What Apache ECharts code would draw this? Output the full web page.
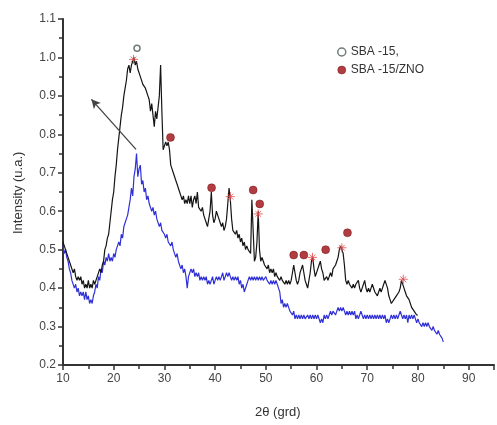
<!DOCTYPE html>
<html>
<head>
<meta charset="utf-8">
<script src="https://cdn.jsdelivr.net/npm/echarts@6/dist/echarts.min.js"></script>
<style>
  html, body { margin: 0; padding: 0; background: #fff; }
  #chart { width: 497px; height: 425px; }
</style>
</head>
<body>
<div id="chart"></div>
<script>
// XRD pattern of SBA-15/ZnO (black) and SBA-15 (blue), 2θ scan in 0.25° steps
var zincTheta = [
  10.00,10.25,10.50,10.75,11.00,11.25,11.50,11.75,12.00,12.25,12.50,12.75,13.00,13.25,13.50,13.75,14.00,14.25,14.50,14.75,
  15.00,15.25,15.50,15.75,16.00,16.25,16.50,16.75,17.00,17.25,17.50,17.75,18.00,18.25,18.50,18.75,19.00,19.25,19.50,19.75,
  20.00,20.25,20.50,20.75,21.00,21.25,21.50,21.75,22.00,22.25,22.50,22.75,23.00,23.25,23.50,23.75,24.00,24.25,24.50,24.75,
  25.00,25.25,25.50,25.75,26.00,26.25,26.50,26.75,27.00,27.25,27.50,27.75,28.00,28.25,28.50,28.75,29.00,29.25,29.50,29.75,
  30.00,30.25,30.50,30.75,31.00,31.25,31.50,31.75,32.00,32.25,32.50,32.75,33.00,33.25,33.50,33.75,34.00,34.25,34.50,34.75,
  35.00,35.25,35.50,35.75,36.00,36.25,36.50,36.75,37.00,37.25,37.50,37.75,38.00,38.25,38.50,38.75,39.00,39.25,39.50,39.75,
  40.00,40.25,40.50,40.75,41.00,41.25,41.50,41.75,42.00,42.25,42.50,42.75,43.00,43.25,43.50,43.75,44.00,44.25,44.50,44.75,
  45.00,45.25,45.50,45.75,46.00,46.25,46.50,46.75,47.00,47.25,47.50,47.75,48.00,48.25,48.50,48.75,49.00,49.25,49.50,49.75,
  50.00,50.25,50.50,50.75,51.00,51.25,51.50,51.75,52.00,52.25,52.50,52.75,53.00,53.25,53.50,53.75,54.00,54.25,54.50,54.75,
  55.00,55.25,55.50,55.75,56.00,56.25,56.50,56.75,57.00,57.25,57.50,57.75,58.00,58.25,58.50,58.75,59.00,59.25,59.50,59.75,
  60.00,60.25,60.50,60.75,61.00,61.25,61.50,61.75,62.00,62.25,62.50,62.75,63.00,63.25,63.50,63.75,64.00,64.25,64.50,64.75,
  65.00,65.25,65.50,65.75,66.00,66.25,66.50,66.75,67.00,67.25,67.50,67.75,68.00,68.25,68.50,68.75,69.00,69.25,69.50,69.75,
  70.00,70.25,70.50,70.75,71.00,71.25,71.50,71.75,72.00,72.25,72.50,72.75,73.00,73.25,73.50,73.75,74.00,74.25,74.50,74.75,
  75.00,75.25,75.50,75.75,76.00,76.25,76.50,76.75,77.00,77.25,77.50,77.75,78.00,78.25,78.50,78.75,79.00,79.25,79.50,79.75,
  80.00];
var zincIntensity = [
  0.52,0.51,0.50,0.50,0.48,0.48,0.46,0.46,0.44,0.45,0.43,0.42,0.43,0.42,0.43,0.41,0.42,0.40,0.41,0.40,
  0.42,0.40,0.41,0.40,0.42,0.41,0.42,0.43,0.43,0.45,0.44,0.46,0.47,0.50,0.51,0.53,0.54,0.57,0.60,0.63,
  0.65,0.69,0.72,0.76,0.79,0.82,0.85,0.87,0.90,0.92,0.94,0.97,0.98,0.96,0.98,0.99,1.00,0.98,0.99,0.97,
  0.97,0.95,0.95,0.93,0.93,0.92,0.92,0.90,0.89,0.86,0.88,0.85,0.82,0.86,0.84,0.87,0.90,0.98,0.86,0.76,
  0.77,0.78,0.77,0.78,0.76,0.72,0.72,0.70,0.70,0.68,0.67,0.67,0.65,0.64,0.63,0.64,0.62,0.63,0.62,0.64,
  0.62,0.64,0.61,0.63,0.64,0.62,0.65,0.61,0.61,0.60,0.61,0.59,0.59,0.57,0.56,0.58,0.60,0.65,0.59,0.57,
  0.58,0.60,0.59,0.58,0.57,0.56,0.57,0.55,0.56,0.58,0.62,0.66,0.63,0.58,0.55,0.55,0.54,0.55,0.53,0.54,
  0.52,0.53,0.51,0.52,0.50,0.51,0.50,0.50,0.49,0.63,0.55,0.47,0.48,0.52,0.60,0.50,0.47,0.48,0.47,0.46,
  0.46,0.45,0.46,0.44,0.45,0.44,0.45,0.43,0.44,0.43,0.43,0.42,0.43,0.42,0.42,0.41,0.42,0.41,0.42,0.41,
  0.42,0.44,0.46,0.44,0.42,0.41,0.42,0.44,0.45,0.46,0.44,0.42,0.41,0.40,0.40,0.44,0.47,0.48,0.45,0.43,
  0.43,0.45,0.46,0.47,0.45,0.44,0.42,0.42,0.43,0.42,0.43,0.44,0.43,0.45,0.45,0.46,0.47,0.48,0.50,0.51,
  0.51,0.49,0.46,0.42,0.41,0.42,0.41,0.41,0.40,0.41,0.40,0.41,0.41,0.42,0.40,0.39,0.40,0.41,0.42,0.40,
  0.39,0.40,0.39,0.40,0.41,0.41,0.39,0.39,0.38,0.39,0.40,0.39,0.40,0.41,0.42,0.42,0.40,0.38,0.37,0.36,
  0.36,0.37,0.37,0.38,0.38,0.39,0.40,0.42,0.42,0.40,0.39,0.38,0.38,0.37,0.36,0.35,0.35,0.34,0.34,0.33,
  0.33];

var silicaTheta = [
  10.00,10.25,10.50,10.75,11.00,11.25,11.50,11.75,12.00,12.25,12.50,12.75,13.00,13.25,13.50,13.75,14.00,14.25,14.50,14.75,
  15.00,15.25,15.50,15.75,16.00,16.25,16.50,16.75,17.00,17.25,17.50,17.75,18.00,18.25,18.50,18.75,19.00,19.25,19.50,19.75,
  20.00,20.25,20.50,20.75,21.00,21.25,21.50,21.75,22.00,22.25,22.50,22.75,23.00,23.25,23.50,23.75,24.00,24.25,24.50,24.75,
  25.00,25.25,25.50,25.75,26.00,26.25,26.50,26.75,27.00,27.25,27.50,27.75,28.00,28.25,28.50,28.75,29.00,29.25,29.50,29.75,
  30.00,30.25,30.50,30.75,31.00,31.25,31.50,31.75,32.00,32.25,32.50,32.75,33.00,33.25,33.50,33.75,34.00,34.25,34.50,34.75,
  35.00,35.25,35.50,35.75,36.00,36.25,36.50,36.75,37.00,37.25,37.50,37.75,38.00,38.25,38.50,38.75,39.00,39.25,39.50,39.75,
  40.00,40.25,40.50,40.75,41.00,41.25,41.50,41.75,42.00,42.25,42.50,42.75,43.00,43.25,43.50,43.75,44.00,44.25,44.50,44.75,
  45.00,45.25,45.50,45.75,46.00,46.25,46.50,46.75,47.00,47.25,47.50,47.75,48.00,48.25,48.50,48.75,49.00,49.25,49.50,49.75,
  50.00,50.25,50.50,50.75,51.00,51.25,51.50,51.75,52.00,52.25,52.50,52.75,53.00,53.25,53.50,53.75,54.00,54.25,54.50,54.75,
  55.00,55.25,55.50,55.75,56.00,56.25,56.50,56.75,57.00,57.25,57.50,57.75,58.00,58.25,58.50,58.75,59.00,59.25,59.50,59.75,
  60.00,60.25,60.50,60.75,61.00,61.25,61.50,61.75,62.00,62.25,62.50,62.75,63.00,63.25,63.50,63.75,64.00,64.25,64.50,64.75,
  65.00,65.25,65.50,65.75,66.00,66.25,66.50,66.75,67.00,67.25,67.50,67.75,68.00,68.25,68.50,68.75,69.00,69.25,69.50,69.75,
  70.00,70.25,70.50,70.75,71.00,71.25,71.50,71.75,72.00,72.25,72.50,72.75,73.00,73.25,73.50,73.75,74.00,74.25,74.50,74.75,
  75.00,75.25,75.50,75.75,76.00,76.25,76.50,76.75,77.00,77.25,77.50,77.75,78.00,78.25,78.50,78.75,79.00,79.25,79.50,79.75,
  80.00,80.25,80.50,80.75,81.00,81.25,81.50,81.75,82.00,82.25,82.50,82.75,83.00,83.25,83.50,83.75,84.00,84.25,84.50,84.75,
  85.00];
var silicaIntensity = [
  0.51,0.49,0.50,0.48,0.47,0.45,0.44,0.42,0.42,0.40,0.41,0.39,0.40,0.38,0.39,0.38,0.39,0.37,0.39,0.37,
  0.38,0.36,0.37,0.36,0.38,0.39,0.41,0.40,0.43,0.42,0.45,0.44,0.47,0.46,0.48,0.47,0.49,0.47,0.48,0.47,
  0.49,0.48,0.50,0.51,0.52,0.51,0.54,0.53,0.56,0.57,0.58,0.59,0.61,0.63,0.66,0.64,0.69,0.71,0.75,0.69,
  0.71,0.72,0.67,0.68,0.65,0.66,0.63,0.64,0.62,0.62,0.60,0.61,0.59,0.60,0.58,0.58,0.56,0.57,0.55,0.55,
  0.54,0.53,0.54,0.52,0.52,0.51,0.52,0.50,0.50,0.48,0.49,0.47,0.47,0.45,0.46,0.44,0.45,0.43,0.40,0.43,
  0.44,0.45,0.44,0.45,0.43,0.44,0.43,0.44,0.42,0.43,0.42,0.43,0.42,0.43,0.41,0.42,0.41,0.42,0.43,0.41,
  0.42,0.43,0.42,0.43,0.42,0.43,0.44,0.42,0.43,0.44,0.43,0.44,0.43,0.42,0.43,0.42,0.43,0.42,0.43,0.41,
  0.42,0.40,0.41,0.39,0.39,0.41,0.42,0.43,0.42,0.43,0.42,0.43,0.42,0.43,0.42,0.43,0.42,0.43,0.42,0.42,
  0.43,0.42,0.42,0.41,0.42,0.41,0.42,0.41,0.42,0.41,0.40,0.39,0.36,0.37,0.35,0.36,0.35,0.36,0.35,0.34,
  0.34,0.33,0.34,0.32,0.33,0.32,0.33,0.32,0.33,0.32,0.33,0.32,0.32,0.33,0.32,0.33,0.32,0.33,0.32,0.33,
  0.32,0.33,0.32,0.31,0.32,0.31,0.33,0.32,0.33,0.32,0.33,0.34,0.33,0.34,0.34,0.33,0.34,0.35,0.34,0.35,
  0.34,0.35,0.34,0.33,0.34,0.33,0.34,0.33,0.34,0.33,0.34,0.32,0.33,0.32,0.33,0.34,0.33,0.32,0.33,0.32,
  0.33,0.32,0.33,0.32,0.33,0.32,0.33,0.32,0.33,0.32,0.33,0.32,0.33,0.32,0.33,0.31,0.32,0.31,0.32,0.33,
  0.32,0.33,0.32,0.33,0.32,0.33,0.34,0.33,0.32,0.33,0.32,0.33,0.31,0.33,0.32,0.33,0.32,0.33,0.32,0.31,
  0.32,0.31,0.31,0.30,0.31,0.30,0.31,0.30,0.31,0.30,0.30,0.29,0.30,0.29,0.29,0.28,0.29,0.28,0.28,0.27,
  0.26];

// Reflection markers
var openMarkTheta = [24.6];
var openMarkIntensity = [1.024];
var zincMarkTheta = [31.2, 39.3, 47.5, 48.8, 55.5, 57.5, 61.8, 66.1];
var zincMarkIntensity = [0.792, 0.661, 0.655, 0.619, 0.486, 0.486, 0.50, 0.544];
var starTheta = [23.9, 43.0, 48.5, 59.2, 65.0, 77.1];
var starIntensity = [0.995, 0.638, 0.593, 0.48, 0.505, 0.423];

// Arrow from the SBA-15 maximum
var arrowFrom = [24.4, 0.761];
var arrowTo = [15.6, 0.891];

var xTicks = [10, 20, 30, 40, 50, 60, 70, 80, 90];

function pairs(xs, ys) {
  return xs.map(function (x, i) { return [x, ys[i]]; });
}

var font = 'Liberation Sans, Arial, sans-serif';
var starPath = 'path://M0,-5L0,5M-5,0L5,0M-3.2,-3.2L3.2,3.2M-3.2,3.2L3.2,-3.2';

var chart = echarts.init(document.getElementById('chart'), null, { renderer: 'canvas' });
chart.setOption({
  animation: false,
  backgroundColor: '#ffffff',
  textStyle: { fontFamily: font },
  grid: { left: 63, right: 1, top: 19, bottom: 60, containLabel: false },
  legend: {
    orient: 'vertical',
    left: 332, top: 41,
    itemGap: 6,
    itemWidth: 8, itemHeight: 8,
    textStyle: { fontFamily: font, fontSize: 12, color: '#333' },
    data: [
      { name: 'SBA -15,', icon: 'circle', itemStyle: { color: '#fff', borderColor: '#4a5a58', borderWidth: 1.5 } },
      { name: 'SBA -15/ZNO', icon: 'circle', itemStyle: { color: '#9c0c12', borderColor: '#6a0000', borderWidth: 0.5 } }
    ]
  },
  xAxis: {
    type: 'value', min: 10, max: 95, interval: 10,
    axisLine: { lineStyle: { color: '#333', width: 2 } },
    axisTick: { inside: false, length: 5, lineStyle: { color: '#333', width: 1.5 } },
    minorTick: { show: true, splitNumber: 2, length: 4, lineStyle: { color: '#333', width: 1.5 } },
    splitLine: { show: false },
    axisLabel: {
      fontSize: 12, color: '#444', margin: 8, fontFamily: font,
      formatter: function (v) { return xTicks.indexOf(v) >= 0 ? String(v) : ''; }
    }
  },
  yAxis: {
    type: 'value', min: 0.2, max: 1.1, interval: 0.1,
    axisLine: { show: true, lineStyle: { color: '#333', width: 2 } },
    axisTick: { show: true, inside: false, length: 5, lineStyle: { color: '#333', width: 1.5 } },
    minorTick: { show: true, splitNumber: 2, length: 4, lineStyle: { color: '#333', width: 1.5 } },
    splitLine: { show: false },
    axisLabel: {
      fontSize: 12, color: '#444', margin: 7, fontFamily: font,
      formatter: function (v) { return v.toFixed(1); }
    }
  },
  graphic: [
    {
      type: 'text', left: 255, top: 406,
      style: { text: '2θ (grd)', font: '13px ' + font, fill: '#333' }
    },
    {
      type: 'text', x: 12, y: 234, rotation: Math.PI / 2,
      style: { text: 'Intensity (u.a.)', font: '13px ' + font, fill: '#333' }
    }
  ],
  series: [
    {
      name: 'SBA-15 pattern', type: 'line', showSymbol: false, symbol: 'none',
      data: pairs(silicaTheta, silicaIntensity),
      lineStyle: { color: '#3030d8', width: 1.2 }, z: 2
    },
    {
      name: 'SBA-15/ZnO pattern', type: 'line', showSymbol: false, symbol: 'none',
      data: pairs(zincTheta, zincIntensity),
      lineStyle: { color: '#151515', width: 1.2 }, z: 3,
      markLine: {
        silent: true, symbolSize: [7, 9],
        lineStyle: { color: '#444', width: 1.3, type: 'solid' },
        label: { show: false },
        data: [[
          { coord: arrowFrom, symbol: 'none' },
          { coord: arrowTo, symbol: 'arrow' }
        ]]
      }
    },
    {
      name: 'SBA -15,', type: 'scatter', symbol: 'circle', symbolSize: 6,
      data: pairs(openMarkTheta, openMarkIntensity),
      itemStyle: { color: '#fff', borderColor: '#4a5a58', borderWidth: 1.5 }, z: 5
    },
    {
      name: 'SBA -15/ZNO', type: 'scatter', symbol: 'circle', symbolSize: 8,
      data: pairs(zincMarkTheta, zincMarkIntensity),
      itemStyle: { color: '#9c0c12', borderColor: '#6a0000', borderWidth: 0.5 }, z: 5
    },
    {
      name: 'peak', type: 'scatter', symbol: starPath, symbolSize: 9,
      data: pairs(starTheta, starIntensity),
      itemStyle: { color: 'rgba(0,0,0,0)', borderColor: '#e04848', borderWidth: 1 }, z: 6
    }
  ]
});
</script>
</body>
</html>
